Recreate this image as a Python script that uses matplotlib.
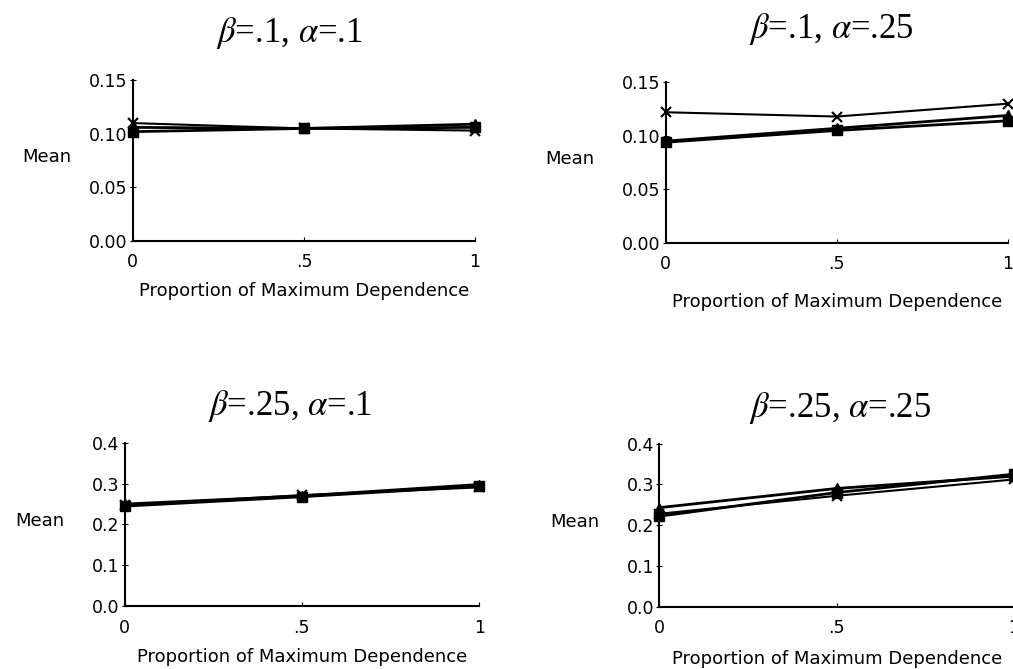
import matplotlib
matplotlib.use("Agg")
import matplotlib.pyplot as plt

plt.rcParams['font.family'] = ['DejaVu Sans']
plt.rcParams['mathtext.fontset'] = 'stix'

# x positions: proportion of maximum dependence
dependence = [0, 0.5, 1]
x_ticklabels = ['0', '.5', '1']

titles = [r'$\beta$=.1, $\alpha$=.1', r'$\beta$=.1, $\alpha$=.25',
          r'$\beta$=.25, $\alpha$=.1', r'$\beta$=.25, $\alpha$=.25']

# three series per panel (square, triangle, cross markers)
p1_square = [0.102, 0.105, 0.106]
p1_triangle = [0.106, 0.105, 0.109]
p1_cross = [0.110, 0.105, 0.103]

p2_square = [0.094, 0.105, 0.114]
p2_triangle = [0.095, 0.107, 0.119]
p2_cross = [0.122, 0.118, 0.130]

p3_square = [0.245, 0.268, 0.294]
p3_triangle = [0.250, 0.270, 0.298]
p3_cross = [0.247, 0.272, 0.291]

p4_square = [0.222, 0.280, 0.325]
p4_triangle = [0.243, 0.290, 0.320]
p4_cross = [0.228, 0.272, 0.312]

small_ticks = [0.00, 0.05, 0.10, 0.15]
small_labels = ['0.00', '0.05', '0.10', '0.15']
big_ticks = [0.0, 0.1, 0.2, 0.3, 0.4]
big_labels = ['0.0', '0.1', '0.2', '0.3', '0.4']

panels = [
    (p1_square, p1_triangle, p1_cross, small_ticks, small_labels),
    (p2_square, p2_triangle, p2_cross, small_ticks, small_labels),
    (p3_square, p3_triangle, p3_cross, big_ticks, big_labels),
    (p4_square, p4_triangle, p4_cross, big_ticks, big_labels),
]

# axes rectangles [left, bottom, width, height]
rects = [[0.131, 0.640, 0.338, 0.240],
         [0.657, 0.637, 0.338, 0.240],
         [0.123, 0.094, 0.350, 0.244],
         [0.651, 0.093, 0.350, 0.244]]
title_pos = [(0.286, 0.950), (0.821, 0.957), (0.286, 0.393), (0.829, 0.390)]
mean_x = [-0.25, -0.28, -0.24, -0.24]
xlabel_pad = [8, 14, 8, 9]

fig = plt.figure(figsize=(10.13, 6.69), dpi=100)

for i, (sq, tri, cr, yt, yl) in enumerate(panels):
    ax = fig.add_axes(rects[i])
    ax.plot(dependence, sq, color='black', lw=2, marker='s', ms=7, clip_on=False)
    ax.plot(dependence, tri, color='black', lw=2, marker='^', ms=7, clip_on=False)
    ax.plot(dependence, cr, color='black', lw=1.5, marker='x', ms=7, mew=1.5,
            clip_on=False)

    ax.set_xlim(0, 1)
    ax.set_ylim(yt[0], yt[-1])
    ax.set_xticks(dependence)
    ax.set_xticklabels(x_ticklabels)
    ax.set_yticks(yt)
    ax.set_yticklabels(yl)
    ax.spines['top'].set_visible(False)
    ax.spines['right'].set_visible(False)
    ax.spines['left'].set_linewidth(1.5)
    ax.spines['bottom'].set_linewidth(1.5)
    ax.tick_params(axis='y', direction='inout', length=4, labelsize=12.5, pad=2)
    ax.tick_params(axis='x', direction='in', length=3, labelsize=12.5, pad=9)

    ax.set_xlabel('Proportion of Maximum Dependence', fontsize=13,
                  labelpad=xlabel_pad[i])
    ax.set_ylabel('Mean', rotation=0, fontsize=13)
    ax.yaxis.set_label_coords(mean_x[i], 0.52)
    ax.yaxis.label.set_va('center')
    ax.yaxis.label.set_ha('center')

    fig.text(title_pos[i][0], title_pos[i][1], titles[i], fontsize=25,
             family='Liberation Serif', ha='center', va='center')

fig.savefig('out.png', dpi=100)
